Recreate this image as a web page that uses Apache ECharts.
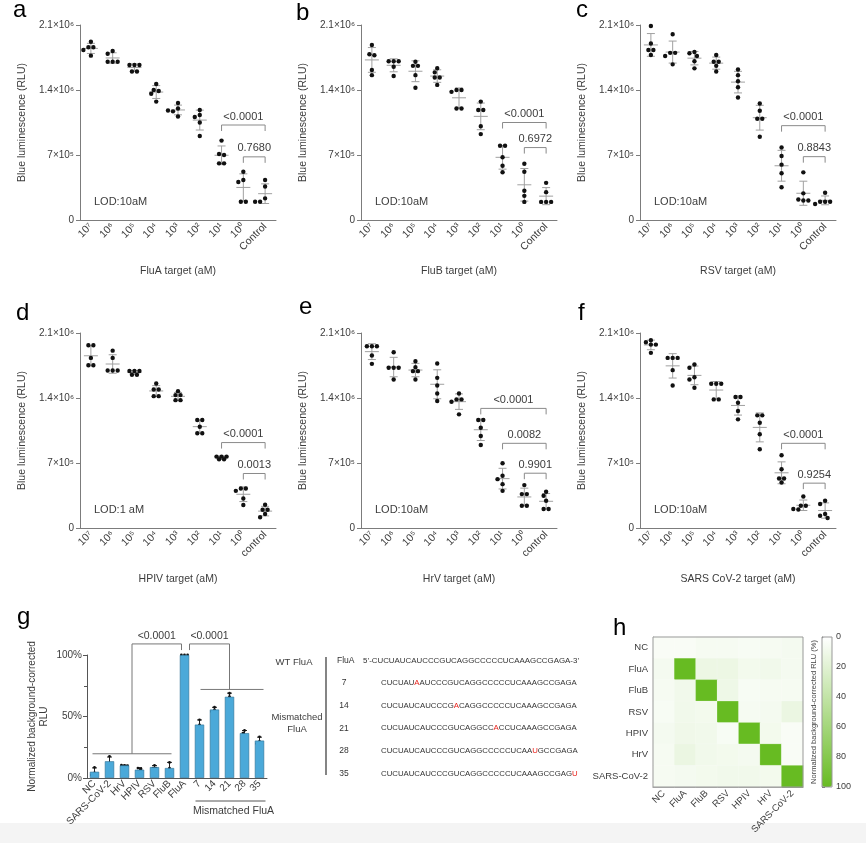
<!DOCTYPE html>
<html>
<head>
<meta charset="utf-8">
<script src="https://cdn.jsdelivr.net/npm/echarts@6/dist/echarts.min.js"></script>
<style>
  html, body { margin: 0; padding: 0; background: #fff; }
  #main { width: 866px; height: 843px; }
</style>
</head>
<body>
<div id="main"></div>
<script>
// ---- data (luminescence in units of 1e5 RLU, 5 replicates per level) ----
const UNIT = 1e5;
const concCats = ['10⁷', '10⁶', '10⁵', '10⁴', '10³', '10²', '10¹', '10⁰', 'Control'];
const concCatsLower = ['10⁷', '10⁶', '10⁵', '10⁴', '10³', '10²', '10¹', '10⁰', 'control'];
const rluTicks = { 0: '0', 700000: '7×10⁵', 1400000: '1.4×10⁶', 2100000: '2.1×10⁶' };

const fluaRLU = [
  [19.2, 18.6, 18.6, 18.3, 17.7], [18.2, 17.9, 17.05, 17.05, 17.05], [16.7, 16.7, 16.7, 16.0, 16.0],
  [14.65, 14.0, 13.9, 13.6, 12.75], [12.6, 12.0, 11.8, 11.7, 11.15], [11.85, 11.3, 11.1, 10.5, 9.05],
  [8.55, 7.1, 7.0, 6.1, 6.1], [5.2, 4.1, 4.3, 1.97, 1.97], [4.3, 3.6, 2.33, 1.97, 1.97]
];
const flubRLU = [
  [18.85, 17.75, 17.85, 16.15, 15.6], [17.1, 17.1, 17.1, 16.5, 15.5], [17.05, 16.6, 16.6, 15.6, 14.25],
  [15.9, 16.35, 15.35, 15.35, 14.55], [14.0, 14.0, 13.8, 12.0, 12.0], [12.75, 11.85, 11.85, 10.1, 9.25],
  [8.0, 8.0, 6.75, 5.85, 5.15], [6.05, 5.2, 3.15, 2.6, 1.95], [4.0, 3.0, 1.95, 1.95, 1.95]
];
const rsvRLU = [
  [20.9, 19.0, 18.3, 18.3, 17.77], [20.0, 18.0, 18.0, 17.66, 16.76], [18.1, 17.95, 17.66, 17.1, 16.33],
  [17.77, 17.05, 17.05, 16.6, 16.0], [16.2, 15.6, 14.95, 14.3, 13.2], [12.55, 11.77, 10.9, 10.9, 8.97],
  [7.8, 6.9, 5.96, 5.03, 3.52], [5.13, 2.87, 2.2, 2.1, 2.1], [2.94, 1.97, 1.97, 1.97, 1.72]
];
const hpivRLU = [
  [19.68, 19.68, 18.32, 17.53, 17.53], [19.1, 18.32, 16.96, 16.96, 16.96], [16.9, 16.9, 16.9, 16.5, 16.5],
  [15.56, 14.92, 14.92, 14.2, 14.2], [14.74, 14.31, 14.31, 13.77, 13.77], [11.63, 11.63, 10.91, 10.2, 10.2],
  [7.69, 7.69, 7.69, 7.4, 7.4], [4.26, 4.26, 4.0, 3.18, 2.47], [2.5, 1.97, 1.97, 1.5, 1.15]
];
const hrvRLU = [
  [19.57, 19.57, 19.57, 18.57, 17.68], [18.93, 17.25, 17.25, 17.25, 15.99], [17.96, 17.32, 16.89, 16.89, 15.99],
  [17.71, 16.17, 15.35, 14.49, 13.67], [14.49, 13.85, 13.85, 13.6, 12.24], [11.63, 11.63, 10.8, 9.91, 8.94],
  [6.98, 5.62, 5.26, 4.72, 4.0], [4.62, 3.65, 3.65, 2.4, 2.4], [3.9, 3.47, 2.93, 2.04, 2.04]
];
const sarsRLU = [
  [20.22, 20.0, 19.75, 19.75, 18.86], [18.32, 18.32, 18.32, 17.0, 15.35], [17.6, 17.25, 16.24, 15.99, 15.1],
  [15.53, 15.53, 15.53, 13.85, 13.85], [14.1, 14.1, 13.49, 12.6, 11.7], [12.13, 12.13, 11.34, 10.09, 8.48],
  [7.83, 6.33, 5.33, 5.33, 4.9], [3.4, 2.4, 2.4, 2.04, 2.0], [2.93, 2.58, 1.5, 1.32, 1.07]
];

// significance brackets: [from category, to category, height (1e5 RLU), p value]
const fluaSig = [[6, 8, 10.23, '<0.0001'], [7, 8, 6.8, '0.7680']];
const flubSig = [[6, 8, 10.5, '<0.0001'], [7, 8, 7.8, '0.6972']];
const rsvSig = [[6, 8, 10.16, '<0.0001'], [7, 8, 6.82, '0.8843']];
const hpivSig = [[6, 8, 9.2, '<0.0001'], [7, 8, 5.87, '0.0013']];
const hrvSig = [[5, 8, 12.88, '<0.0001'], [6, 8, 9.12, '0.0082'], [7, 8, 5.9, '0.9901']];
const sarsSig = [[6, 8, 9.12, '<0.0001'], [7, 8, 4.83, '0.9254']];

// panel g: normalized background-corrected RLU (%), 3 replicates
const gCats = ['NC', 'SARS-CoV-2', 'HrV', 'HPIV', 'RSV', 'FluB', 'FluA', '7', '14', '21', '28', '35'];
const gReplicates = [
  [8.6, 4.1, 2.5], [17.6, 11.6, 11.6], [10.3, 10.1, 10.4], [8.1, 7.3, 4.9], [10.3, 8.1, 8.1], [12.7, 8.1, 3.5],
  [100, 100, 100], [47.3, 43.2, 39.7], [57.6, 55.4, 54.0], [68.9, 66.2, 63.0], [38.6, 36.5, 34.3], [33.5, 29.7, 28.0]
];
const gSigLevels = { groupA: 19.7, top: 109, fluA: 104, groupB: 72 };
const gSigLabels = ['<0.0001', '<0.0001'];

const wtSeq = 'CUCUAUCAUCCCGUCAGGCCCCCUCAAAGCCGAGA';
const mismatchPos = [7, 14, 21, 28, 35];
const mismatchBase = ['A', 'A', 'A', 'U', 'U'];

// panel h: cross-reactivity heatmap (%)
const hmCats = ['NC', 'FluA', 'FluB', 'RSV', 'HPIV', 'HrV', 'SARS-CoV-2'];
const hmRows = [
  [4, 4, 6, 6, 5, 6, 7],
  [7, 100, 12, 12, 8, 9, 7],
  [6, 9, 100, 11, 5, 6, 6],
  [5, 9, 8, 100, 6, 7, 13],
  [7, 10, 9, 5, 100, 8, 4],
  [6, 13, 9, 8, 7, 100, 4],
  [6, 7, 8, 9, 9, 8, 100]
];

// ---- styling ----
const FONT = 'Liberation Sans, Arial, sans-serif';
const TXT = '#3c3c3c';
const AX = '#7c7c7c';
const ERR = '#a0a0a0';

const panels = [
  { letter: 'a', data: fluaRLU, sig: fluaSig, cats: concCats, title: 'FluA target (aM)', lod: 'LOD:10aM' },
  { letter: 'b', data: flubRLU, sig: flubSig, cats: concCats, title: 'FluB target (aM)', lod: 'LOD:10aM' },
  { letter: 'c', data: rsvRLU, sig: rsvSig, cats: concCats, title: 'RSV target (aM)', lod: 'LOD:10aM' },
  { letter: 'd', data: hpivRLU, sig: hpivSig, cats: concCatsLower, title: 'HPIV target (aM)', lod: 'LOD:1 aM' },
  { letter: 'e', data: hrvRLU, sig: hrvSig, cats: concCatsLower, title: 'HrV target (aM)', lod: 'LOD:10aM' },
  { letter: 'f', data: sarsRLU, sig: sarsSig, cats: concCatsLower, title: 'SARS CoV-2 target (aM)', lod: 'LOD:10aM' }
];
const boxes = [[80, 25], [361, 25], [640, 25], [80, 333], [361, 333], [640, 333]];
const letterPos = [[13, -2], [296, 1], [576, -2], [16, 301], [299, 295], [578, 301]];

// spread points sideways so they don't overlap, like a scatter dot plot:
// near-equal values form a centred row, other rows shift until they fit
function swarm(ys, r, step) {
  const order = ys.map((_, i) => i).sort((a, b) => ys[a] - ys[b]);
  const groups = [];
  order.forEach(id => {
    const g = groups[groups.length - 1];
    if (g && ys[id] - ys[g[0]] < 1.2) g.push(id); else groups.push([id]);
  });
  const off = ys.map(() => 0);
  const placed = [];
  const shifts = [0, -0.5, 0.5, -1, 1, -1.5, 1.5, -2, 2];
  groups.forEach(g => {
    const base = g.map((id, j) => (j - (g.length - 1) / 2) * step);
    let best = 0;
    for (const s of shifts) {
      const fits = g.every((id, j) => placed.every(p =>
        Math.hypot(base[j] + s * step - off[p], ys[id] - ys[p]) >= 2 * r * 0.95));
      if (fits) { best = s * step; break; }
    }
    g.forEach((id, j) => { off[id] = base[j] + best; placed.push(id); });
  });
  return off;
}

function dotPlot(o) {
  return function (params, api) {
    const vals = [];
    for (let k = 1; k <= o.n; k++) vals.push(api.value(k));
    const idx = api.value(0);
    const mean = vals.reduce((a, b) => a + b, 0) / o.n;
    const sd = Math.sqrt(vals.reduce((a, b) => a + (b - mean) * (b - mean), 0) / (o.n - 1));
    const pm = api.coord([idx, mean]);
    const pt = api.coord([idx, mean + sd]);
    const pb = api.coord([idx, Math.max(mean - sd, 0)]);
    const ls = { stroke: o.errColor, lineWidth: 1 };
    const x = pm[0];
    const children = [];
    if (sd > 0) {
      children.push(
        { type: 'line', shape: { x1: x, y1: pt[1], x2: x, y2: pb[1] }, style: ls },
        { type: 'line', shape: { x1: x - o.cap, y1: pt[1], x2: x + o.cap, y2: pt[1] }, style: ls },
        { type: 'line', shape: { x1: x - o.cap, y1: pb[1], x2: x + o.cap, y2: pb[1] }, style: ls }
      );
    }
    if (o.meanHalf) {
      children.push({ type: 'line', shape: { x1: x - o.meanHalf, y1: pm[1], x2: x + o.meanHalf, y2: pm[1] }, style: ls });
    }
    const ys = vals.map(v => api.coord([idx, v])[1]);
    const off = swarm(ys, o.r, o.step);
    ys.forEach((y, i) => children.push({
      type: 'circle', shape: { cx: x + off[i], cy: y, r: o.r }, style: { fill: o.dotColor }
    }));
    return { type: 'group', children };
  };
}

function bracket(sig) {
  return function (params, api) {
    const a = api.coord([api.value(0), api.value(2)]);
    const b = api.coord([api.value(1), api.value(2)]);
    const leg = 6;
    return {
      type: 'group',
      children: [
        { type: 'polyline', shape: { points: [[a[0], a[1] + leg], [a[0], a[1]], [b[0], b[1]], [b[0], b[1] + leg]] },
          style: { stroke: '#8a8a8a', fill: 'none', lineWidth: 1 } },
        { type: 'text', x: (a[0] + b[0]) / 2, y: a[1] - 3,
          style: { text: sig[params.dataIndex][3], fontSize: 11, fontFamily: FONT, fill: TXT, align: 'center', verticalAlign: 'bottom' } }
      ]
    };
  };
}

const option = {
  animation: false,
  backgroundColor: '#fff',
  textStyle: { fontFamily: FONT },
  grid: [], xAxis: [], yAxis: [], series: [], graphic: [], visualMap: []
};

// ---- panels a-f ----
panels.forEach((p, k) => {
  const [gl, gt] = boxes[k];
  option.grid.push({ left: gl, top: gt, width: 196, height: 195, outerBoundsMode: 'none' });
  option.xAxis.push({
    gridIndex: k, type: 'category', data: p.cats,
    axisLine: { lineStyle: { color: AX } },
    axisTick: { alignWithLabel: true, length: 4, lineStyle: { color: AX } },
    axisLabel: { rotate: 45, interval: 0, fontSize: 10.5, color: TXT, margin: 5 },
    name: p.title, nameLocation: 'middle', nameGap: 46,
    nameTextStyle: { fontSize: 10.5, color: TXT }
  });
  option.yAxis.push({
    gridIndex: k, type: 'value', min: 0, max: 2.1e6, interval: 7e5,
    axisLine: { show: true, lineStyle: { color: AX } },
    axisTick: { show: true, length: 4, lineStyle: { color: AX } },
    splitLine: { show: false },
    axisLabel: { fontSize: 10, color: TXT, margin: 6, formatter: v => rluTicks[v] },
    name: 'Blue luminescence (RLU)', nameLocation: 'middle', nameGap: 52, nameRotate: 90,
    nameTextStyle: { fontSize: 10.5, color: TXT }
  });
  option.series.push({
    type: 'custom', xAxisIndex: k, yAxisIndex: k, silent: true, clip: false,
    data: p.data.map((vals, i) => [i].concat(vals.map(v => v * UNIT))),
    encode: { x: 0, y: [1, 2, 3, 4, 5] },
    renderItem: dotPlot({ n: 5, r: 2.2, step: 5, cap: 4, meanHalf: 7, errColor: ERR, dotColor: '#111' })
  });
  option.series.push({
    type: 'custom', xAxisIndex: k, yAxisIndex: k, silent: true, clip: false,
    data: p.sig.map(s => [s[0], s[1], s[2] * UNIT]),
    encode: { x: [0, 1], y: 2 },
    renderItem: bracket(p.sig)
  });
  option.graphic.push({
    type: 'text', x: gl + 14, y: gt + 177,
    style: { text: p.lod, fontSize: 11, fontFamily: FONT, fill: TXT, verticalAlign: 'middle' }
  });
  option.graphic.push({
    type: 'text', x: letterPos[k][0], y: letterPos[k][1],
    style: { text: p.letter, fontSize: 24, fontFamily: FONT, fill: '#000', verticalAlign: 'top' }
  });
});

// ---- panel g ----
const G = option.grid.length;
const gMeans = gReplicates.map(r => r.reduce((a, b) => a + b, 0) / r.length);
option.grid.push({ left: 87, top: 655, width: 180, height: 123, outerBoundsMode: 'none' });
option.xAxis.push({
  gridIndex: G, type: 'category', data: gCats,
  axisLine: { lineStyle: { color: '#555' } },
  axisTick: { alignWithLabel: true, length: 3, lineStyle: { color: '#555' } },
  axisLabel: { rotate: 45, interval: 0, fontSize: 10, color: TXT, margin: 4 }
});
option.yAxis.push({
  gridIndex: G, type: 'value', min: 0, max: 100, interval: 50,
  axisLine: { show: true, lineStyle: { color: '#555' } },
  axisTick: { show: true, length: 4, lineStyle: { color: '#555' } },
  minorTick: { show: true, splitNumber: 2, length: 3, lineStyle: { color: '#555' } },
  splitLine: { show: false },
  axisLabel: { fontSize: 10, color: TXT, margin: 5, formatter: '{value}%' },
  name: 'Normalized background-corrected\nRLU', nameLocation: 'middle', nameGap: 37, nameRotate: 90,
  nameTextStyle: { fontSize: 10, color: TXT, lineHeight: 12 }
});
option.series.push({
  type: 'bar', xAxisIndex: G, yAxisIndex: G, data: gMeans, barWidth: '62%', silent: true,
  itemStyle: { color: '#4BA9D9', borderColor: '#2d6f92', borderWidth: 0.6 }
});
option.series.push({
  type: 'custom', xAxisIndex: G, yAxisIndex: G, silent: true, clip: false,
  data: gReplicates.map((vals, i) => [i].concat(vals)),
  encode: { x: 0, y: [1, 2, 3] },
  renderItem: dotPlot({ n: 3, r: 1.4, step: 3.1, cap: 2.5, meanHalf: 0, errColor: '#222', dotColor: '#111' })
});
option.series.push({
  type: 'custom', xAxisIndex: G, yAxisIndex: G, silent: true, clip: false,
  data: [[0, 0]], encode: { x: 0, y: 1 },
  renderItem: function (params, api) {
    const cx = i => api.coord([i, 0])[0];
    const cy = v => api.coord([0, v])[1];
    const L = gSigLevels;
    const st = { stroke: '#777', fill: 'none', lineWidth: 1 };
    const midA = (cx(0) + cx(5)) / 2, midB = (cx(7) + cx(11)) / 2;
    const ax = cy(0);
    const txt = (t, x, y, extra) => ({ type: 'text', x, y, style: Object.assign({ text: t, fontSize: 10.5, fontFamily: FONT, fill: TXT, align: 'center', verticalAlign: 'bottom' }, extra || {}) });
    return {
      type: 'group',
      children: [
        { type: 'line', shape: { x1: cx(0) - 2, y1: cy(L.groupA), x2: cx(5) + 2, y2: cy(L.groupA) }, style: st },
        { type: 'polyline', shape: { points: [[midA, cy(L.groupA)], [midA, cy(L.top)], [cx(6) - 3, cy(L.top)], [cx(6) - 3, cy(L.fluA)]] }, style: st },
        { type: 'polyline', shape: { points: [[cx(6) + 5, cy(L.fluA)], [cx(6) + 5, cy(L.top)], [midB, cy(L.top)], [midB, cy(L.groupB)]] }, style: st },
        { type: 'line', shape: { x1: cx(7) + 1, y1: cy(L.groupB), x2: cx(11) + 4, y2: cy(L.groupB) }, style: st },
        txt(gSigLabels[0], (midA + cx(6) - 3) / 2, cy(L.top) - 2),
        txt(gSigLabels[1], (cx(6) + 5 + midB) / 2, cy(L.top) - 2),
        { type: 'line', shape: { x1: cx(7) - 4, y1: ax + 23, x2: cx(11) + 6, y2: ax + 23 }, style: { stroke: '#555', lineWidth: 1 } },
        txt('Mismatched FluA', (cx(7) + cx(11)) / 2 + 4, ax + 33, { verticalAlign: 'middle' })
      ]
    };
  }
});

// sequences beside panel g
option.graphic.push(
  { type: 'text', x: 17, y: 605, style: { text: 'g', fontSize: 24, fontFamily: FONT, fill: '#000', verticalAlign: 'top' } },
  { type: 'text', x: 294, y: 662, style: { text: 'WT FluA', fontSize: 9.5, fontFamily: FONT, fill: TXT, align: 'center', verticalAlign: 'middle' } },
  { type: 'text', x: 297, y: 723, style: { text: 'Mismatched\nFluA', fontSize: 9.5, lineHeight: 12, fontFamily: FONT, fill: TXT, align: 'center', verticalAlign: 'middle' } },
  { type: 'line', shape: { x1: 326, y1: 657, x2: 326, y2: 775 }, style: { stroke: '#333', lineWidth: 1.2 } },
  { type: 'text', x: 337, y: 661, style: { text: 'FluA', fontSize: 8.5, fontFamily: FONT, fill: '#333', verticalAlign: 'middle' } },
  { type: 'text', x: 363, y: 661, style: { text: '5’-' + wtSeq + '-3’', fontSize: 7.9, fontFamily: FONT, fill: '#333', verticalAlign: 'middle' } }
);
const seqRich = { n: { fontSize: 7.8, fontFamily: FONT, fill: '#333' }, r: { fontSize: 7.8, fontFamily: FONT, fill: '#e8221b' } };
mismatchPos.forEach((pos, i) => {
  const y = 683 + i * 22.6;
  const head = wtSeq.slice(0, pos - 1), tail = wtSeq.slice(pos);
  const text = '{n|' + head + '}{r|' + mismatchBase[i] + '}' + (tail ? '{n|' + tail + '}' : '');
  option.graphic.push(
    { type: 'text', x: 344, y, style: { text: String(pos), fontSize: 8.5, fontFamily: FONT, fill: '#333', align: 'center', verticalAlign: 'middle' } },
    { type: 'text', x: 381, y, style: { text, rich: seqRich, verticalAlign: 'middle' } }
  );
});

// ---- panel h ----
const H = option.grid.length;
option.grid.push({ left: 653, top: 637, width: 150, height: 150, outerBoundsMode: 'none' });
option.xAxis.push({
  gridIndex: H, type: 'category', data: hmCats,
  axisLine: { lineStyle: { color: '#888' } },
  axisTick: { alignWithLabel: true, length: 4, lineStyle: { color: '#666' } },
  axisLabel: { rotate: 45, interval: 0, fontSize: 9.5, color: TXT, margin: 5 }
});
option.yAxis.push({
  gridIndex: H, type: 'category', data: hmCats, inverse: true,
  axisLine: { lineStyle: { color: '#888' } },
  axisTick: { alignWithLabel: true, length: 4, lineStyle: { color: '#666' } },
  axisLabel: { interval: 0, fontSize: 9.5, color: TXT, margin: 5 }
});
const hmData = [];
hmRows.forEach((row, y) => row.forEach((v, x) => hmData.push([x, y, v])));
const hmSeries = option.series.length;
option.series.push({
  type: 'heatmap', xAxisIndex: H, yAxisIndex: H, data: hmData, silent: true,
  itemStyle: { borderColor: 'rgba(255,255,255,0.35)', borderWidth: 0.5 }
});
option.visualMap.push({
  type: 'continuous', seriesIndex: hmSeries, min: 0, max: 100, inverse: true, orient: 'vertical',
  left: 822, top: 637, itemWidth: 10, itemHeight: 150, padding: 0, calculable: false,
  inRange: { color: ['#ffffff', '#67BB22'] }, text: null
});
// colour bar scale
const CB = option.grid.length;
option.grid.push({ left: 822, top: 637, width: 10, height: 150, outerBoundsMode: 'none' });
option.xAxis.push({ gridIndex: CB, type: 'value', show: false });
option.yAxis.push({
  gridIndex: CB, type: 'value', min: 0, max: 100, interval: 20, inverse: true, position: 'right',
  axisLine: { show: true, lineStyle: { color: '#888' } },
  axisTick: { show: true, length: 3, lineStyle: { color: '#666' } },
  splitLine: { show: false },
  axisLabel: { fontSize: 9, color: TXT, margin: 4 }
});
option.graphic.push(
  { type: 'rect', shape: { x: 653, y: 637, width: 150, height: 150 }, style: { fill: 'none', stroke: '#999', lineWidth: 1 }, z: 50 },
  { type: 'rect', shape: { x: 822, y: 637, width: 10, height: 150 }, style: { fill: 'none', stroke: '#999', lineWidth: 1 }, z: 50 },
  { type: 'text', x: 814, y: 712, rotation: Math.PI / 2, z: 60,
    style: { text: 'Normalized background-corrected RLU (%)', fontSize: 7.5, fontFamily: FONT, fill: '#444', align: 'center', verticalAlign: 'middle' } },
  { type: 'text', x: 613, y: 616, style: { text: 'h', fontSize: 24, fontFamily: FONT, fill: '#000', verticalAlign: 'top' } },
  { type: 'rect', shape: { x: 0, y: 823, width: 866, height: 20 }, style: { fill: '#f4f4f4' }, z: -1 }
);

const chart = echarts.init(document.getElementById('main'), null, { renderer: 'canvas' });
chart.setOption(option);
</script>
</body>
</html>
